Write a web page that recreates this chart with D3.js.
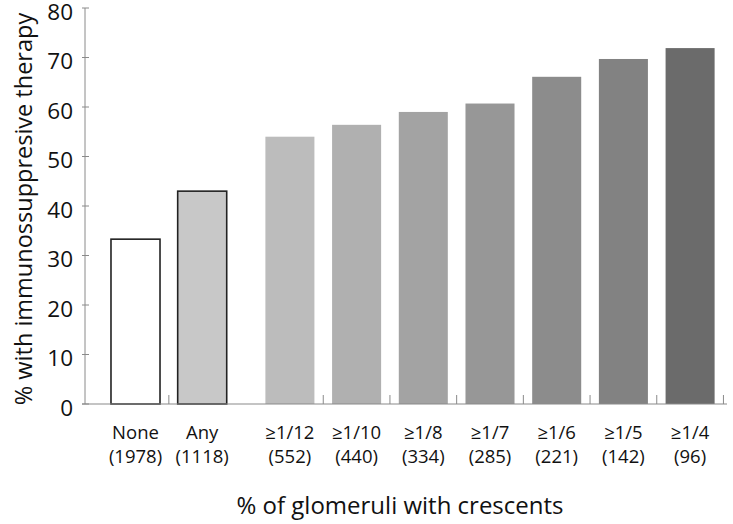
<!DOCTYPE html>
<html><head><meta charset="utf-8">
<script src="https://cdn.jsdelivr.net/npm/d3@7"></script>
<style>body{margin:0;background:#fff}svg{display:block}text{font-family:"Open Sans",sans-serif;fill:#111}</style>
</head><body><svg id="c" width="733" height="524"></svg>
<script>
const categories = ["None","Any","≥1/12","≥1/10","≥1/8","≥1/7","≥1/6","≥1/5","≥1/4"];
const counts = ["(1978)","(1118)","(552)","(440)","(334)","(285)","(221)","(142)","(96)"];
const values = [33.3, 43.0, 54.0, 56.4, 59.0, 60.7, 66.1, 69.7, 71.9];
const fills = ["#ffffff","#c8c8c8","#bcbcbc","#b0b0b0","#a3a3a3","#979797","#8c8c8c","#828282","#6b6b6b"];
const outlined = [true,true,false,false,false,false,false,false,false];
const groupBreak = 2; // categories from this index on are shifted right
const yTicks = [0,10,20,30,40,50,60,70,80];

const svg = d3.select("#c");
const gap = 21;
const x = d3.scaleBand().domain(categories).range([102.15, 702.45]).paddingInner(0.265).paddingOuter(0.1325);
const xPos = (c,i) => x(c) + (i >= groupBreak ? gap : 0);
const y = d3.scaleLinear().domain([0,80]).range([404, 8]);
const axisCol = "#8a8a8a";

// y axis
svg.append("line").attr("x1",85).attr("x2",85).attr("y1",y(0)).attr("y2",y(80)).attr("stroke",axisCol).attr("stroke-width",1);
svg.selectAll(".yt").data(yTicks).join("line").attr("x1",82).attr("x2",89).attr("y1",d=>y(d)).attr("y2",d=>y(d)).attr("stroke",axisCol);
svg.selectAll(".yl").data(yTicks).join("text").attr("x",73).attr("y",d=>y(d)+11.5)
  .attr("text-anchor","end").attr("font-size",22.5).text(d=>d);

// bars
svg.selectAll(".bar").data(values).join("rect")
  .attr("x",(d,i)=>xPos(categories[i],i)).attr("width",x.bandwidth())
  .attr("y",d=>y(d)).attr("height",d=>y(0)-y(d))
  .attr("fill",(d,i)=>fills[i])
  .attr("stroke",(d,i)=>outlined[i]?"#222":"none").attr("stroke-width",1.6);

// baseline
svg.append("line").attr("x1",82).attr("x2",727).attr("y1",y(0)).attr("y2",y(0)).attr("stroke",axisCol).attr("stroke-width",1.2);
// x ticks at band boundaries (not across the group gap)
const step = x.step();
const tickIdx = [1,3,4,5,6,7,8,9];
const bx = i => x(categories[0]) - (step-x.bandwidth())/2 + i*step + (i>groupBreak?gap:0);
svg.selectAll(".xt").data(tickIdx).join("line")
  .attr("x1",bx).attr("x2",bx)
  .attr("y1",y(0)).attr("y2",y(0)-9).attr("stroke",axisCol);

// category labels
const lab = svg.selectAll(".cl").data(categories).join("text")
  .attr("text-anchor","middle").attr("font-size",18.5);
lab.append("tspan").attr("x",(c,i)=>xPos(c,i)+x.bandwidth()/2).attr("y",439).text(c=>c);
lab.append("tspan").attr("x",(c,i)=>xPos(c,i)+x.bandwidth()/2).attr("y",463).text((c,i)=>counts[i]);

// titles
svg.append("text").attr("x",400).attr("y",514).attr("text-anchor","middle").attr("font-size",24)
  .text("% of glomeruli with crescents");
svg.append("text").attr("transform","translate(32,209) rotate(-90)").attr("text-anchor","middle").attr("font-size",23.5)
  .text("% with immunossuppresive therapy");
</script></body></html>
